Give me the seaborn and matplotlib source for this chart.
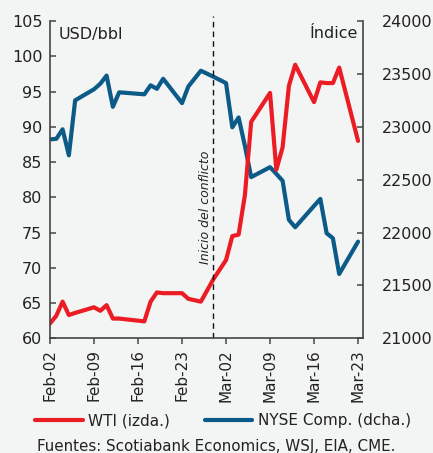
import matplotlib
matplotlib.use('Agg')
import matplotlib.pyplot as plt
import matplotlib.dates as mdates
import pandas as pd
import seaborn as sns

# Valores (WTI en eje izquierdo, NYSE Composite en eje derecho)
dates = ['2022-02-02', '2022-02-03', '2022-02-04', '2022-02-05', '2022-02-06',
         '2022-02-09', '2022-02-10', '2022-02-11', '2022-02-12', '2022-02-13',
         '2022-02-17', '2022-02-18', '2022-02-19', '2022-02-20', '2022-02-23',
         '2022-02-24', '2022-02-26', '2022-02-28', '2022-03-02', '2022-03-03',
         '2022-03-04', '2022-03-05', '2022-03-06', '2022-03-09', '2022-03-10',
         '2022-03-11', '2022-03-12', '2022-03-13', '2022-03-16', '2022-03-17',
         '2022-03-18', '2022-03-19', '2022-03-20', '2022-03-23']
wti = [62.1, 63.2, 65.2, 63.3, 63.6, 64.4, 63.9, 64.7, 62.8, 62.8,
       62.4, 65.2, 66.5, 66.4, 66.4, 65.6, 65.2, 68.4, 71.1, 74.5,
       74.7, 80.3, 90.7, 94.8, 83.9, 87.1, 95.8, 98.8, 93.5, 96.3,
       96.2, 96.2, 98.4, 88.0]
nyse = [22881, 22886, 22976, 22730, 23250, 23355, 23407, 23484, 23189, 23326,
        23307, 23392, 23359, 23454, 23224, 23381, 23530, 23473, 23413, 22995,
        23088, 22820, 22524, 22618, 22555, 22489, 22120, 22050, 22252, 22318,
        21994, 21946, 21608, 21914]
tick_dates = ['2022-02-02', '2022-02-09', '2022-02-16', '2022-02-23',
              '2022-03-02', '2022-03-09', '2022-03-16', '2022-03-23']
conflict_date = '2022-02-28'

RED = '#ec1c24'
BLUE = '#0b5a87'
BG = '#f3f4f4'
INK = '#222222'

sns.set_style('ticks')
plt.rcParams['font.family'] = ['DejaVu Sans']
plt.rcParams['text.color'] = INK
plt.rcParams['xtick.color'] = '#444444'
plt.rcParams['ytick.color'] = '#444444'
plt.rcParams['xtick.labelcolor'] = INK
plt.rcParams['ytick.labelcolor'] = INK

df = pd.DataFrame({'fecha': pd.to_datetime(dates), 'wti': wti, 'nyse': nyse})

fig = plt.figure(figsize=(4.33, 4.53), dpi=100, facecolor=BG)
ax = fig.add_axes([0.1155, 0.2532, 0.7229, 0.7004])
ax2 = ax.twinx()
ax2.set_facecolor(BG)
ax.set_zorder(ax2.get_zorder() + 1)
ax.patch.set_visible(False)

sns.lineplot(data=df, x='fecha', y='nyse', ax=ax2, color=BLUE, lw=3,
             label='NYSE Comp. (dcha.)', legend=False)
sns.lineplot(data=df, x='fecha', y='wti', ax=ax, color=RED, lw=3,
             label='WTI (izda.)', legend=False)

ax.axvline(pd.Timestamp(conflict_date), ymin=0, ymax=1.015, color='#111111',
           lw=1, ls=(0, (4, 3)), clip_on=False)
ax.text(pd.Timestamp(conflict_date) - pd.Timedelta(hours=30), 78.6,
        'Inicio del conflicto', rotation=90, fontsize=9, style='italic',
        ha='center', va='center')

ax.set_ylim(60, 105)
ax.set_yticks(range(60, 106, 5))
ax2.set_ylim(21000, 24000)
ax2.set_yticks(range(21000, 24001, 500))
ax.set_xlim(pd.Timestamp(dates[0]), pd.Timestamp(dates[-1]) + pd.Timedelta(hours=19))
ax.set_xticks(pd.to_datetime(tick_dates))
ax.xaxis.set_major_formatter(mdates.DateFormatter('%b-%d'))
for a in (ax, ax2):
    a.set_xlabel('')
    a.set_ylabel('')
    a.spines['top'].set_visible(False)
    for s in a.spines.values():
        s.set_color('#444444')
        s.set_linewidth(1.2)
ax.spines['right'].set_visible(False)
ax2.spines['left'].set_visible(False)
ax2.spines['bottom'].set_visible(False)

ax.tick_params(axis='y', direction='in', length=4.5, width=1.1, pad=5.5, labelsize=11.5)
ax2.tick_params(axis='y', direction='in', length=4.5, width=1.1, pad=13.5, labelsize=11.5)
ax.tick_params(axis='x', direction='out', length=4.5, width=1.1, pad=3.5, labelsize=11,
               labelrotation=90)

ax.text(0.026, 0.982, 'USD/bbl', transform=ax.transAxes, fontsize=11.5,
        ha='left', va='top')
ax2.text(0.984, 0.985, 'Índice', transform=ax2.transAxes, fontsize=11.5,
         ha='right', va='top')

h1, l1 = ax.get_legend_handles_labels()
h2, l2 = ax2.get_legend_handles_labels()
fig.legend(h1 + h2, l1 + l2, loc='center', bbox_to_anchor=(0.515, 0.071), ncol=2,
           frameon=False, fontsize=11, handlelength=3.1, handletextpad=0.35,
           columnspacing=2.3)

fig.text(0.5, 0.004, 'Fuentes: Scotiabank Economics, WSJ, EIA, CME.',
         ha='center', va='baseline', fontsize=10.9)

fig.savefig('out.png', dpi=100, facecolor=BG)
